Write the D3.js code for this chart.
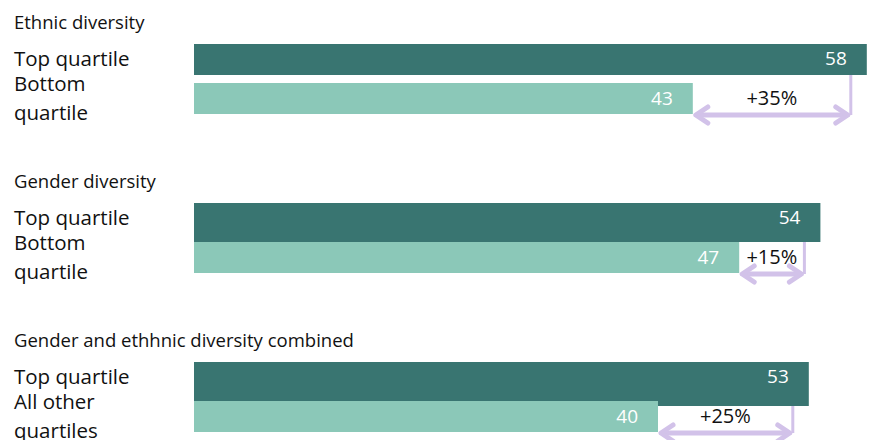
<!DOCTYPE html>
<html>
<head>
<meta charset="utf-8">
<script src="https://cdn.jsdelivr.net/npm/d3@7"></script>
<style>
  body { margin: 0; background: #fff; }
  text { font-family: "Open Sans", sans-serif; }
</style>
</head>
<body>
<div id="chart"></div>
<script>
// chart data
var groupTitles = ["Ethnic diversity", "Gender diversity", "Gender and ethhnic diversity combined"];
var topLabels = [["Top quartile"], ["Top quartile"], ["Top quartile"]];
var bottomLabels = [["Bottom", "quartile"], ["Bottom", "quartile"], ["All other", "quartiles"]];
var topValues = [58, 54, 53];
var bottomValues = [43, 47, 40];
var upliftLabels = ["+35%", "+15%", "+25%"];

var svgWidth = 889;
var svgHeight = 440;

var darkTeal = "#397571";
var lightTeal = "#8bc8b8";
var lilac = "#d2c2e9";

var svg = d3.select("#chart")
  .append("svg")
  .attr("width", svgWidth)
  .attr("height", svgHeight);

var groups = groupTitles.map(function(t, i) {
  return {
    title: t,
    topLabel: topLabels[i],
    bottomLabel: bottomLabels[i],
    top: topValues[i],
    bottom: bottomValues[i],
    uplift: upliftLabels[i]
  };
});

// one shared value scale for all bars
var xScale = d3.scaleLinear()
  .domain([0, 60])
  .range([194, 890]);

// vertical placement of each block
var yGroup = d3.scaleBand()
  .domain(d3.range(groups.length))
  .range([44, 44 + 159 * 3])
  .paddingInner(0);

var barH = 31;
var topBarH = [31, 39, 44];

var block = svg.selectAll("g.block")
  .data(groups)
  .enter()
  .append("g")
  .attr("class", "block")
  .attr("transform", (d, i) => `translate(0, ${yGroup(i)})`);

// titles
block.append("text")
  .attr("x", 14)
  .attr("y", -15)
  .attr("font-size", "18.5px")
  .attr("fill", "#111")
  .text(d => d.title);

// row labels
block.append("text")
  .attr("x", 14)
  .attr("y", 22)
  .attr("font-size", "20.5px")
  .attr("fill", "#111")
  .text(d => d.topLabel[0]);

block.each(function(d) {
  var g = d3.select(this);
  g.append("text")
    .attr("x", 14)
    .attr("y", 47)
    .attr("font-size", "20.5px")
    .attr("fill", "#111")
    .text(d.bottomLabel[0]);
  g.append("text")
    .attr("x", 14)
    .attr("y", 76)
    .attr("font-size", "20.5px")
    .attr("fill", "#111")
    .text(d.bottomLabel[1]);
});

// bars
block.append("rect")
  .attr("x", xScale(0))
  .attr("y", 0)
  .attr("width", d => xScale(d.top) - xScale(0))
  .attr("height", (d, i) => topBarH[i])
  .attr("fill", darkTeal);

block.append("rect")
  .attr("x", xScale(0))
  .attr("y", 39)
  .attr("width", d => xScale(d.bottom) - xScale(0))
  .attr("height", barH)
  .attr("fill", lightTeal);

// value labels
block.append("text")
  .attr("x", d => Math.min(xScale(d.top) - 20, svgWidth - 10))
  .attr("y", 21)
  .attr("text-anchor", "end")
  .attr("font-size", "19px")
  .attr("fill", "#fff")
  .text(d => d.top);

block.append("text")
  .attr("x", d => xScale(d.bottom) - 20)
  .attr("y", 61)
  .attr("text-anchor", "end")
  .attr("font-size", "19px")
  .attr("fill", "#fff")
  .text(d => d.bottom);

// uplift arrows
var arrowY = 39 + barH + 1;
block.each(function(d, i) {
  var g = d3.select(this);
  var x0 = xScale(d.bottom);
  var x1 = Math.min(xScale(d.top) - 16, svgWidth - 3);

  g.append("line")
    .attr("x1", x1).attr("x2", x1)
    .attr("y1", topBarH[i]).attr("y2", arrowY)
    .attr("stroke", lilac)
    .attr("stroke-width", 3);

  g.append("line")
    .attr("x1", x0 + 3).attr("x2", x1 - 3)
    .attr("y1", arrowY).attr("y2", arrowY)
    .attr("stroke", lilac)
    .attr("stroke-width", 5);

  g.append("path")
    .attr("d", `M${x0 + 15},${arrowY - 8} L${x0 + 3},${arrowY} L${x0 + 15},${arrowY + 8}`)
    .attr("fill", "none")
    .attr("stroke", lilac)
    .attr("stroke-width", 5)
    .attr("stroke-linecap", "round")
    .attr("stroke-linejoin", "round");

  g.append("path")
    .attr("d", `M${x1 - 15},${arrowY - 8} L${x1 - 3},${arrowY} L${x1 - 15},${arrowY + 8}`)
    .attr("fill", "none")
    .attr("stroke", lilac)
    .attr("stroke-width", 5)
    .attr("stroke-linecap", "round")
    .attr("stroke-linejoin", "round");

  g.append("text")
    .attr("x", (x0 + x1) / 2)
    .attr("y", 61)
    .attr("text-anchor", "middle")
    .attr("font-size", "20px")
    .attr("fill", "#111")
    .text(d.uplift);
});
</script>
</body>
</html>
